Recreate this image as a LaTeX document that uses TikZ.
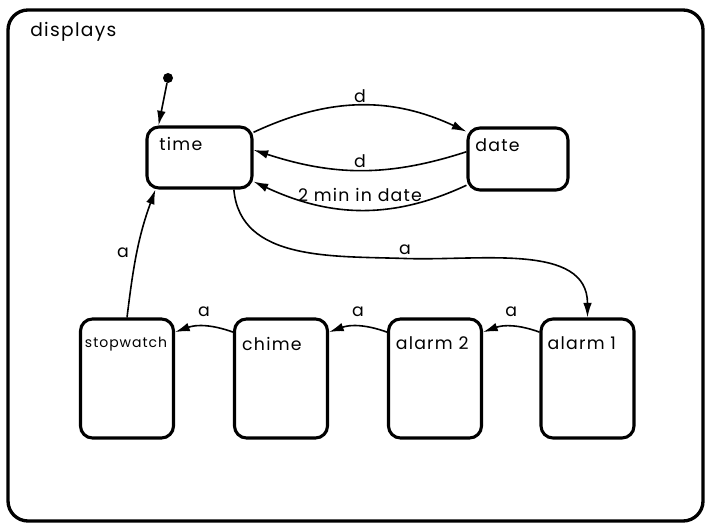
\documentclass[tikz,border=0pt]{standalone}
\usepackage{fontspec}
\setmainfont{Poppins}[LetterSpace=7]
\usetikzlibrary{arrows.meta}
\tikzset{
    state/.style={draw, line width=2.3pt, rounded corners=9pt, inner sep=0pt},
    tall/.style={state, minimum width=69.75pt, minimum height=89.25pt},
    tag/.style={anchor=base west, inner sep=0pt, font=\fontsize{13}{15}\selectfont},
    trans/.style={line width=1.2pt, -{Latex[length=11pt,width=6.5pt]}},
    event/.style={font=\fontsize{13}{15}\selectfont, inner sep=1.5pt}
}
\begin{document}
\begin{tikzpicture}[x=0.75pt,y=0.75pt]
\useasboundingbox (0,0) rectangle (705,524);
\draw[line width=2.5pt, rounded corners=15pt] (8,514) rectangle (703,3); % outer state
\node[tag, font=\fontsize{14}{16}\selectfont] (displays) at (30,487) {displays};
\node[state, minimum width=78.75pt, minimum height=45.75pt, label={[tag,xshift=10.3pt,yshift=-18.75pt]north west:time}] (time) at (199.5,366.5) {}; % time display
\node[state, minimum width=75pt, minimum height=46.5pt, label={[tag,xshift=6.5pt,yshift=-18.75pt]north west:date}] (date) at (518,365) {}; % date display
\node[tall, label={[tag,font=\fontsize{10.5}{12}\selectfont,xshift=4.3pt,yshift=-22.5pt]north west:stopwatch}] (stopwatch) at (127,145.5) {};
\node[tall, label={[tag,xshift=6.75pt,yshift=-24.5pt]north west:chime}] (chime) at (281,145.5) {};
\node[tall, label={[tag,xshift=6.5pt,yshift=-23.8pt]north west:alarm 2}] (alarm2) at (435,145.5) {};
\node[tall, label={[tag,xshift=6pt,yshift=-23.8pt]north west:alarm 1}] (alarm1) at (587.5,145.5) {};
\node[circle, fill, inner sep=0pt, minimum size=7.5pt] (init) at (168,446) {}; % default entry
\draw[trans] (init) -- (time.142);
\draw[trans] (time.25) to[out=25,in=155] node[event,above]{d} (date.152); % time to date
\draw[trans] (date.172) to[out=198,in=-18] node[event,above]{d} (time.8); % back with d
\draw[trans] (date.207) to[out=205,in=-25] node[event,above=4pt]{2 min in date} (time.-24); % timeout
\coordinate (bend) at (405,265.5); % middle of the long a
\draw[trans] (time.-43) to[out=-85,in=178] (bend) node[event,above=1pt]{a} to[out=-2,in=90] (alarm1.north);
\draw[trans] (alarm1.136) to[out=160,in=20] node[event,above=5pt]{a} (alarm2.44);
\draw[trans] (alarm2.136) to[out=160,in=20] node[event,above=5pt]{a} (chime.44);
\draw[trans] (chime.136) to[out=160,in=20] node[event,above=5pt]{a} (stopwatch.44);
\draw[trans] (stopwatch.north) to[out=83,in=250] node[event,left=4pt]{a} (time.216); % back to time
\end{tikzpicture}
\end{document}
